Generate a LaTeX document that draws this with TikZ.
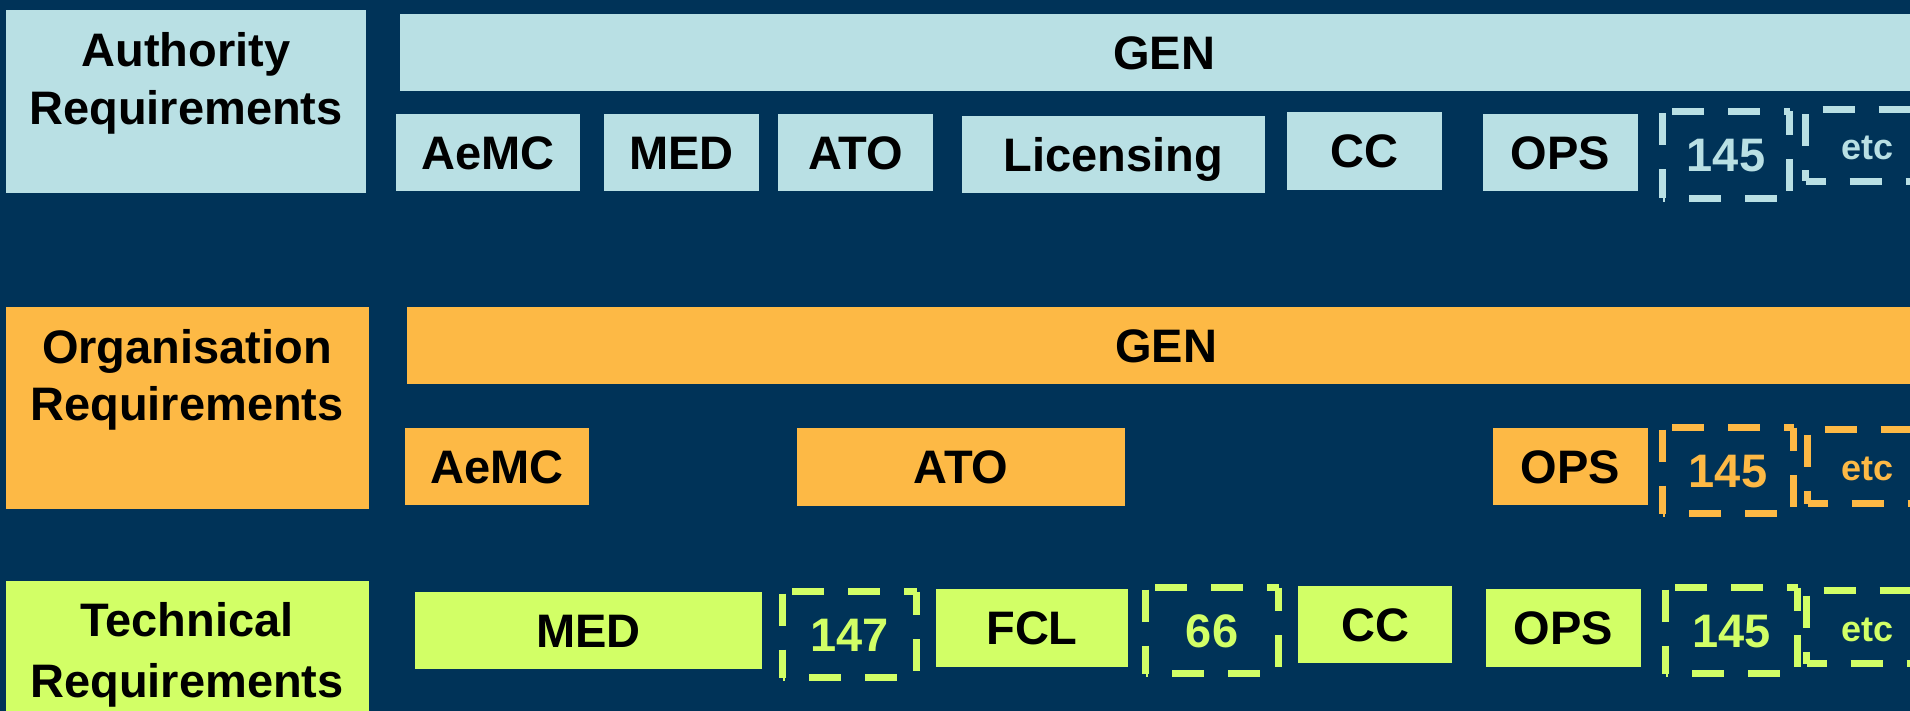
\documentclass[tikz,border=0pt]{standalone}
\usepackage{fontspec}
\setmainfont{Liberation Sans}
\definecolor{navy}{HTML}{003358}
\definecolor{lblue}{HTML}{B9E0E4}
\definecolor{orng}{HTML}{FDB945}
\definecolor{lime}{HTML}{D2FF66}
\newcommand\rbox[7]{% name, x1, y1, x2, y2, style, text
  \node[#6, minimum width={#4-#2}, minimum height={#5-#3}] (#1) at ({(#2+#4)/2},{(#3+#5)/2}) {#7};}
\newcommand\dbox[7]{% dashed box given by outer bounds
  \node[#6, minimum width={#4-#2-7}, minimum height={#5-#3-7}] (#1) at ({(#2+#4)/2},{(#3+#5)/2}) {#7};}
% dashed sides: node, colour, phase top, right, bottom, left
\newcommand\dsides[6]{%
  \draw[dline,draw=#2,dash phase=#3] (#1.north west) -- (#1.north east);
  \draw[dline,draw=#2,dash phase=#4] (#1.north east) -- (#1.south east);
  \draw[dline,draw=#2,dash phase=#5] (#1.south west) -- (#1.south east);
  \draw[dline,draw=#2,dash phase=#6] (#1.north west) -- (#1.south west);}
\begin{document}
\begin{tikzpicture}[x=1pt,y=-1pt,
  base/.style={inner sep=0pt, outer sep=0pt, font=\fontsize{47}{56}\selectfont\bfseries, text height=33.6pt, text depth=0pt},
  solidA/.style={base, fill=lblue, text=black},
  solidO/.style={base, fill=orng, text=black},
  solidL/.style={base, fill=lime, text=black},
  dashA/.style={base, text=lblue},
  dashO/.style={base, text=orng},
  dashL/.style={base, text=lime},
  dline/.style={line width=7pt, line cap=butt, dash pattern=on 32pt off 24pt},
  lbl/.style={inner sep=0pt, anchor=base, font=\fontsize{47}{56}\selectfont\bfseries, text=black},
  etcA/.style={inner sep=0pt, anchor=base, font=\fontsize{36}{40}\selectfont\bfseries, text=lblue},
  etcO/.style={inner sep=0pt, anchor=base, font=\fontsize{36}{40}\selectfont\bfseries, text=orng},
  etcL/.style={inner sep=0pt, anchor=base, font=\fontsize{36}{40}\selectfont\bfseries, text=lime}]
\useasboundingbox (0,0) rectangle (1910,711);
\fill[navy] (0,0) rectangle (1910,711);

% ---------- Row 1: Authority ----------
\rbox{labA}{6}{10}{366}{193}{solidA}{}
\node[lbl] (labA1) at (186,67) {Authority};
\node[lbl] (labA2) at (186,125) {Requirements};
\rbox{genA}{400}{14}{1928}{91}{solidA}{GEN}
\rbox{aemcA}{396}{114}{580}{191}{solidA}{AeMC}
\rbox{medA}{604}{114}{759}{191}{solidA}{MED}
\rbox{atoA}{778}{114}{933}{191}{solidA}{ATO}
\rbox{licA}{962}{116}{1265}{193}{solidA}{Licensing}
\rbox{ccA}{1287}{112}{1442}{190}{solidA}{CC}
\rbox{opsA}{1483}{114}{1638}{191}{solidA}{OPS}
\dbox{p145A}{1659}{108}{1793}{202}{dashA}{145}
\dsides{p145A}{lblue}{46.5}{8.5}{29.5}{54}
\dbox{etcboxA}{1802}{106}{2010}{185}{dashA}{}
\dsides{etcboxA}{lblue}{39}{0}{12}{51}
\node[etcA] (etcA) at (1867,160) {etc};

% ---------- Row 2: Organisation ----------
\rbox{labO}{6}{307}{369}{509}{solidO}{}
\node[lbl] (labO1) at (187,363) {Organisation};
\node[lbl] (labO2) at (187,420) {Requirements};
\rbox{genO}{407}{307}{1925}{384}{solidO}{GEN}
\rbox{aemcO}{405}{428}{589}{505}{solidO}{AeMC}
\rbox{atoO}{797}{428}{1125}{506}{solidO}{ATO}
\rbox{opsO}{1493}{428}{1648}{505}{solidO}{OPS}
\dbox{p145O}{1659}{424}{1797}{517}{dashO}{145}
\dsides{p145O}{orng}{46.5}{8.5}{29.5}{54}
\dbox{etcboxO}{1804}{426}{2010}{507}{dashO}{}
\dsides{etcboxO}{orng}{39}{0}{12}{51}
\node[etcO] (etcO) at (1867,480) {etc};

% ---------- Row 3: Technical ----------
\rbox{labT}{6}{581}{369}{720}{solidL}{}
\node[lbl] (labT1) at (187,636) {Technical};
\node[lbl] (labT2) at (187,697) {Requirements};
\rbox{medT}{415}{592}{762}{669}{solidL}{MED}
\dbox{p147T}{779}{588}{920}{681}{dashL}{147}
\dsides{p147T}{lime}{46.5}{8.5}{29.5}{54}
\rbox{fclT}{936}{589}{1128}{667}{solidL}{FCL}
\dbox{p66T}{1142}{584}{1282}{677}{dashL}{66}
\dsides{p66T}{lime}{46.5}{8.5}{29.5}{54}
\rbox{ccT}{1298}{586}{1452}{663}{solidL}{CC}
\rbox{opsT}{1486}{589}{1641}{667}{solidL}{OPS}
\dbox{p145T}{1662}{584}{1801}{677}{dashL}{145}
\dsides{p145T}{lime}{46.5}{8.5}{29.5}{54}
\dbox{etcboxT}{1803}{587}{2010}{667}{dashL}{}
\dsides{etcboxT}{lime}{39}{0}{12}{51}
\node[etcL] (etcT) at (1867,641) {etc};
\end{tikzpicture}
\end{document}
